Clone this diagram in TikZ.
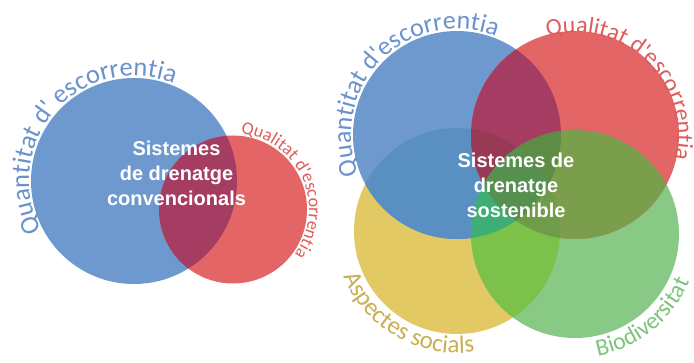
\documentclass[tikz,border=0pt]{standalone}
\usepackage{fontspec}
\setsansfont{Liberation Sans}
\newfontfamily\arcfont{Carlito}
\usetikzlibrary{calc}
\usetikzlibrary{decorations.text}
\definecolor{circ-blue}{HTML}{6E99CF}
\definecolor{circ-red}{HTML}{E46565}
\definecolor{circ-yellow}{HTML}{E2C964}
\definecolor{circ-green}{HTML}{88C986}
\definecolor{ov-br}{HTML}{A53C62}
\definecolor{ov-by}{HTML}{5A8FC1}
\definecolor{ov-bg}{HTML}{3DAE78}
\definecolor{ov-rg}{HTML}{7A9E4C}
\definecolor{ov-ry}{HTML}{9C3A55}
\definecolor{ov-gy}{HTML}{7CC24A}
\definecolor{ov-bgy}{HTML}{3CAE76}
\definecolor{ov-bry}{HTML}{983A56}
\definecolor{ov-brg}{HTML}{5E8C45}
\definecolor{ov-rgy}{HTML}{6E9C48}
\definecolor{ov-all}{HTML}{55904F}
\definecolor{txt-blue}{HTML}{6A93CC}
\definecolor{txt-red}{HTML}{E05C5C}
\definecolor{txt-yellow}{HTML}{CBAE50}
\definecolor{txt-green}{HTML}{7DC57C}

\begin{document}
\begin{tikzpicture}[x=1pt, y=1pt,
    centre/.style={text=white, font=\sffamily\bfseries\fontsize{20}{25}\selectfont, align=center},
    arclabel/.style={decorate, decoration={text along path, text align=center, text={#1}}}]
  \useasboundingbox[fill=white] (0,0) rectangle (694,362);

  % conventional drainage
  \coordinate (quant-c) at (134,181);
  \coordinate (qual-c) at (233,152.5);
  \fill[circ-blue] (quant-c) circle[radius=103pt];
  \fill[circ-red] (qual-c) circle[radius=74pt];
  \begin{scope}
    \clip (quant-c) circle[radius=103pt];
    \fill[ov-br] (qual-c) circle[radius=74pt];
  \end{scope}
  \node[centre] (conv) at (176.5,189) {Sistemes\\de drenatge\\convencionals};
  \path[arclabel={|\arcfont\fontsize{26.5}{26.5}\selectfont\color{txt-blue}|Quantitat d' escorrentia}]
    ($(quant-c)+(224:105pt)$) arc[start angle=224, end angle=52, radius=105pt];
  \path[arclabel={|\arcfont\fontsize{18}{18}\selectfont\color{txt-red}|Qualitat d'escorrentia}]
    ($(qual-c)+(104:76pt)$) arc[start angle=104, end angle=-56, radius=76pt];

  % sustainable drainage
  \coordinate (quant) at (457,227);
  \coordinate (qual) at (575,227);
  \coordinate (social) at (457,131);
  \coordinate (bio) at (575,128);
  \fill[circ-yellow] (social) circle[radius=103pt];
  \fill[circ-green] (bio) circle[radius=104pt];
  \fill[circ-blue] (quant) circle[radius=104pt];
  \fill[circ-red] (qual) circle[radius=104pt];
  \begin{scope}
    \clip (quant) circle[radius=104pt];
    \fill[ov-by] (social) circle[radius=103pt];
    \fill[ov-bg] (bio) circle[radius=104pt];
    \fill[ov-br] (qual) circle[radius=104pt];
  \end{scope}
  \begin{scope}
    \clip (qual) circle[radius=104pt];
    \fill[ov-rg] (bio) circle[radius=104pt];
    \fill[ov-ry] (social) circle[radius=103pt];
  \end{scope}
  \begin{scope}
    \clip (social) circle[radius=103pt];
    \fill[ov-gy] (bio) circle[radius=104pt];
  \end{scope}
  \begin{scope}
    \clip (quant) circle[radius=104pt];
    \clip (social) circle[radius=103pt];
    \fill[ov-bgy] (bio) circle[radius=104pt];
    \fill[ov-bry] (qual) circle[radius=104pt];
  \end{scope}
  \begin{scope}
    \clip (quant) circle[radius=104pt];
    \clip (qual) circle[radius=104pt];
    \fill[ov-brg] (bio) circle[radius=104pt];
  \end{scope}
  \begin{scope}
    \clip (qual) circle[radius=104pt];
    \clip (bio) circle[radius=104pt];
    \fill[ov-rgy] (social) circle[radius=103pt];
    \clip (quant) circle[radius=104pt];
    \fill[ov-all] (social) circle[radius=103pt];
  \end{scope}
  \node[centre] (sust) at (516,177) {Sistemes de\\drenatge\\sostenible};
  \path[arclabel={|\arcfont\fontsize{26}{26}\selectfont\color{txt-blue}|Quantitat d'escorrentia}]
    ($(quant)+(222:106pt)$) arc[start angle=222, end angle=48, radius=106pt];
  \path[arclabel={|\arcfont\fontsize{24}{24}\selectfont\color{txt-red}|Qualitat d'escorrentia}]
    ($(qual)+(131:102pt)$) arc[start angle=131, end angle=-39, radius=102pt];
  \path[arclabel={|\arcfont\fontsize{25}{25}\selectfont\color{txt-yellow}|Aspectes socials}]
    ($(social)+(160:122pt)$) arc[start angle=160, end angle=320, radius=122pt];
  \path[arclabel={|\arcfont\fontsize{24}{24}\selectfont\color{txt-green}|Biodiversitat}]
    ($(bio)+(230:124pt)$) arc[start angle=230, end angle=388, radius=124pt];
\end{tikzpicture}
\end{document}
